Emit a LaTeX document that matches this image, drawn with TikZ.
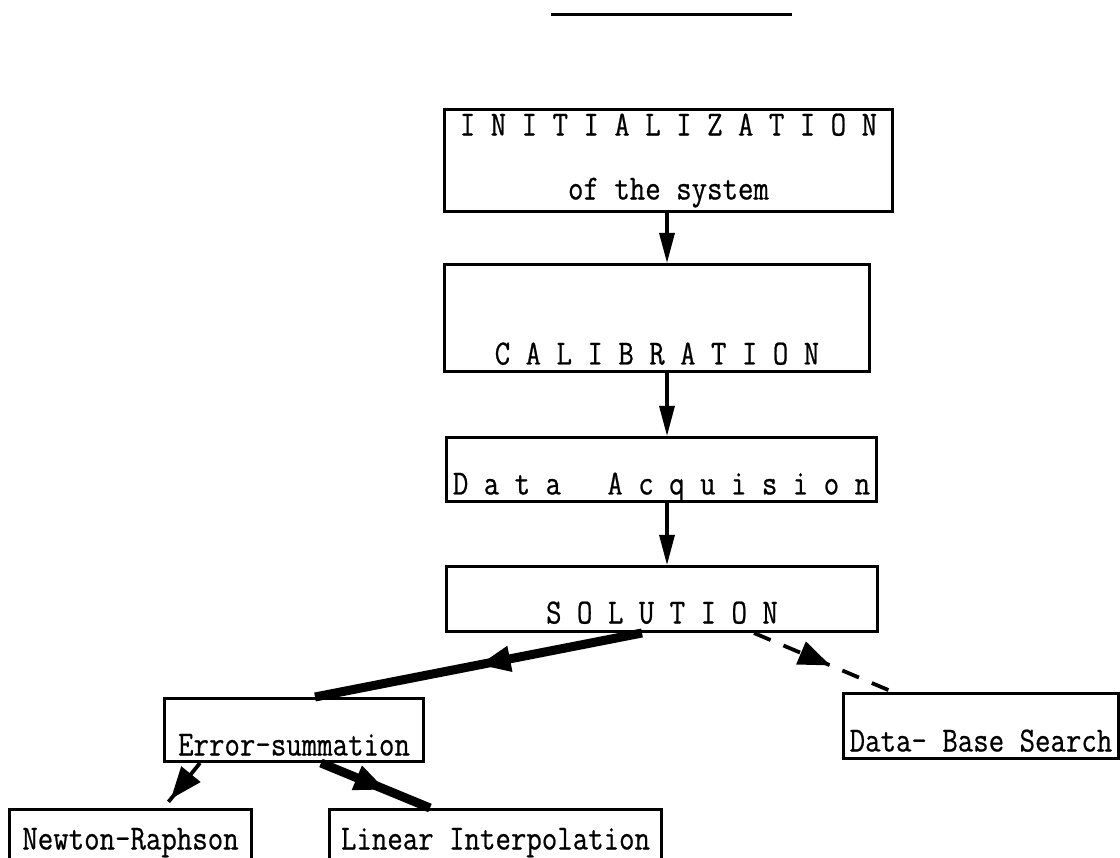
\documentclass[tikz,border=0pt]{standalone}
\usepackage{fontspec}
\setmonofont{Latin Modern Mono}[FakeStretch=0.85,FakeBold=0.6]
\usetikzlibrary{arrows.meta,decorations.markings}

\begin{document}
\begin{tikzpicture}[
        x=1pt, y=-1pt,
        box/.style={
            draw,
            line width=3pt,
            rectangle,
            anchor=north west,
            inner sep=0pt,
            align=center,
            font=\ttfamily\fontsize{35.3}{40}\selectfont
        },
        arrow/.style={
            line width=3.2pt,
            -{Triangle[length=30pt,width=15pt]}
        },
        midarrow/.style={
            decoration={markings,
                mark=at position #1 with {\arrow{Triangle[length=32pt,width=24pt]}}},
            postaction={decorate}
        },
        heavyarrow/.style={
            line width=9pt,
            midarrow=#1
        },
        dasharrow/.style={
            line width=3.8pt,
            dash pattern=on 18pt off 14pt,
            midarrow=#1
        }
    ]

    \useasboundingbox (0,0) rectangle (1120,858);

    % rule at the top
    \draw[line width=3pt] (551,15) -- (792,15);

    \node[box, minimum width=448pt, minimum height=102pt] (init) at (443,108)
        {I N I T I A L I Z A T I O N\\[24pt]of the system};
    \node[box, minimum width=425pt, text height=100pt, text depth=7pt] (cal) at (443,263)
        {C A L I B R A T I O N};
    \node[box, minimum width=430pt, text height=57pt, text depth=7pt] (data) at (445,436)
        {D~a~t~a~~~A~c~q~u~i~s~i~o~n};
    \node[box, minimum width=431pt, text height=57pt, text depth=8pt] (sol) at (445,565)
        {S O L U T I O N};

    \node[box, minimum width=259pt, text height=57pt, text depth=6pt] (err) at (163,697)
        {Error-summation};
    \node[box, minimum width=275pt, text height=58pt, text depth=7pt] (db) at (842,692)
        {Data- Base Search};
    \node[box, minimum width=242pt, text height=40pt, text depth=16pt] (nr) at (8,808)
        {Newton-Raphson};
    \node[box, minimum width=332pt, text height=40pt, text depth=16pt] (lin) at (328,808)
        {Linear Interpolation};

    % main chain
    \coordinate (axis) at (667,0);
    \draw[arrow] (axis |- init.south) -- (axis |- cal.north);
    \draw[arrow] (axis |- cal.south) -- (axis |- data.north);
    \draw[arrow] (axis |- data.south) -- (axis |- sol.north);

    % branches
    \draw[heavyarrow=0.5] ([xshift=-20pt]sol.south) -- ([xshift=21pt]err.north);
    \draw[dasharrow=0.55] ([xshift=92pt]sol.south) -- ([xshift=51pt]db.north west);
    \draw[dasharrow=0.8] ([xshift=37pt]err.south west) -- ([xshift=33pt]nr.north);
    \draw[heavyarrow=0.6] ([xshift=27pt]err.south) -- ([xshift=102pt]lin.north west);
\end{tikzpicture}
\end{document}
